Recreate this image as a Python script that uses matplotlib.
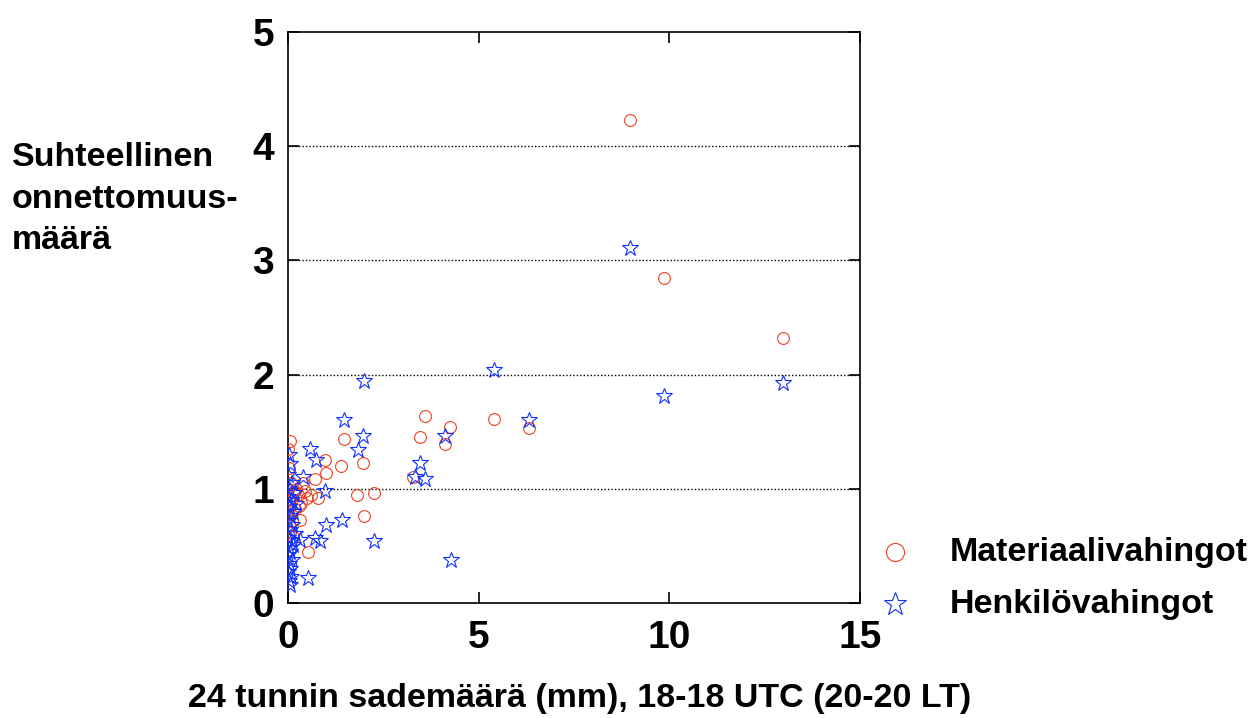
import matplotlib.pyplot as plt
from matplotlib.lines import Line2D

plt.rcParams['font.family'] = ['Liberation Sans', 'DejaVu Sans']
plt.rcParams['font.weight'] = 'bold'

# Materiaalivahingot (circles)
mat_x = [8.97, 9.86, 12.98, 5.40, 6.32, 3.59, 4.25, 3.46, 4.12, 3.28,
         1.47, 1.97, 1.39, 0.97, 1.00, 0.71, 1.81, 2.26, 1.99, 0.52,
         0.31, 0.79, 0.50, 0.40,
         0.05, 0.00, 0.02, 0.08, 0.00, 0.15, 0.25, 0.10, 0.35, 0.05,
         0.18, 0.00, 0.10, 0.02, 0.05, 0.12, 0.60, 0.45, 0.20, 0.30]
mat_y = [4.23, 2.85, 2.32, 1.61, 1.53, 1.64, 1.54, 1.45, 1.39, 1.10,
         1.44, 1.23, 1.20, 1.25, 1.14, 1.09, 0.95, 0.96, 0.76, 0.45,
         0.73, 0.92, 0.92, 1.05,
         1.42, 1.35, 1.18, 1.05, 1.00, 0.97, 0.95, 0.90, 0.88, 0.85,
         0.82, 0.78, 0.72, 0.68, 0.62, 0.58, 0.95, 0.98, 1.00, 0.85]

# Henkilövahingot (stars)
hen_x = [8.97, 5.40, 1.99, 9.86, 12.98, 6.32, 1.47, 4.12, 1.97, 1.84,
         0.58, 0.73, 3.46, 3.33, 3.59, 0.97, 1.42, 1.00, 0.70, 0.84,
         2.26, 4.27, 0.52, 0.39, 0.32,
         0.02, 0.05, 0.00, 0.10, 0.03, 0.15, 0.00, 0.08, 0.20, 0.02,
         0.12, 0.05, 0.00, 0.10, 0.04, 0.18, 0.00, 0.07, 0.12, 0.02,
         0.05, 0.00, 0.10, 0.03, 0.06, 0.00, 0.08, 0.02, 0.04]
hen_y = [3.11, 2.04, 1.94, 1.81, 1.93, 1.60, 1.60, 1.46, 1.46, 1.34,
         1.35, 1.25, 1.23, 1.10, 1.09, 0.98, 0.73, 0.68, 0.57, 0.54,
         0.54, 0.38, 0.22, 1.10, 0.55,
         1.30, 1.22, 1.12, 1.05, 1.00, 0.96, 0.93, 0.90, 0.87, 0.84,
         0.80, 0.76, 0.72, 0.68, 0.64, 0.60, 0.57, 0.54, 0.51, 0.48,
         0.45, 0.42, 0.38, 0.34, 0.30, 0.27, 0.23, 0.19, 0.16]

x_ticks = [0, 5, 10, 15]
y_ticks = [0, 1, 2, 3, 4, 5]
grid_y = [1, 2, 3, 4]
ylabel_lines = ['Suhteellinen', 'onnettomuus-', 'määrä']
legend_labels = ['Materiaalivahingot', 'Henkilövahingot']

red = '#f04020'
blue = '#1030ff'
W, H = 1258, 718

fig = plt.figure(figsize=(12.58, 7.18), dpi=100)
ax = fig.add_axes([288 / W, 1 - 603 / H, 572 / W, 571 / H])

for gy in grid_y:
    ax.axhline(gy, color='black', linestyle=(0, (1, 1.5)), linewidth=1.0, zorder=1)

ax.plot(mat_x, mat_y, linestyle='none', marker='o', markersize=8.5,
        markerfacecolor='none', markeredgecolor=red, markeredgewidth=0.8, zorder=3)
ax.plot(hen_x, hen_y, linestyle='none', marker='*', markersize=12,
        markerfacecolor='none', markeredgecolor=blue, markeredgewidth=0.8, zorder=3)

ax.set_xlim(0, 15)
ax.set_ylim(0, 5)
ax.set_xticks(x_ticks)
ax.set_yticks(y_ticks)
ax.tick_params(direction='in', length=8, width=1.2, top=True, right=True,
               labelsize=28)
ax.tick_params(axis='x', pad=12)
ax.tick_params(axis='y', pad=10)
for lab in ax.get_xticklabels() + ax.get_yticklabels():
    lab.set_fontweight('bold')
for sp in ax.spines.values():
    sp.set_linewidth(1.2)

# y label as three left-aligned lines
for i, line in enumerate(ylabel_lines):
    fig.text(12 / W, 1 - (158 + 41 * i) / H, line,
             fontsize=24.5, fontweight='bold', ha='left', va='center')

fig.text(580 / W, 1 - 698 / H, '24 tunnin sademäärä (mm), 18-18 UTC (20-20 LT)',
         fontsize=24.5, fontweight='bold', ha='center', va='center')

# legend
leg_markers = [('o', 13, red), ('*', 17, blue)]
for i, (lab, (mk, ms, col)) in enumerate(zip(legend_labels, leg_markers)):
    yy = 1 - (552 + 52 * i) / H
    fig.add_artist(Line2D([895 / W], [yy], transform=fig.transFigure,
                          linestyle='none', marker=mk, markersize=ms,
                          markerfacecolor='none', markeredgecolor=col,
                          markeredgewidth=0.8))
    fig.text(950 / W, yy, lab, fontsize=24.5, fontweight='bold',
             ha='left', va='center')

fig.savefig('out.png', dpi=100)
